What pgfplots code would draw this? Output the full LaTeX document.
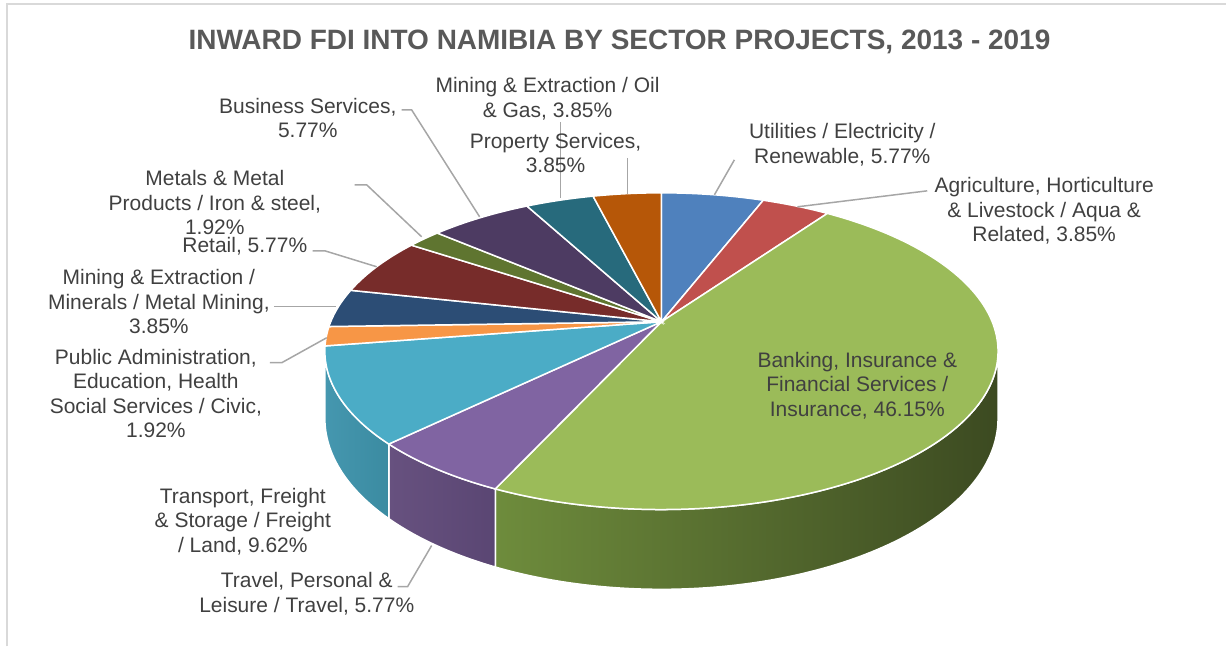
\documentclass[border=0pt]{standalone}
\usepackage{pgfplots}
\pgfplotsset{compat=1.18}
\usepackage{pgfplotstable}
\usepackage{fontspec}
\setmainfont{Liberation Sans}

\definecolor{cA}{HTML}{4F81BD}
\definecolor{cB}{HTML}{C0504D}
\definecolor{cC}{HTML}{9BBB59}
\definecolor{cD}{HTML}{8064A2}
\definecolor{cE}{HTML}{4BACC6}
\definecolor{cF}{HTML}{F79646}
\definecolor{cG}{HTML}{2C4D75}
\definecolor{cH}{HTML}{772C2A}
\definecolor{cI}{HTML}{5F7530}
\definecolor{cJ}{HTML}{4D3B62}
\definecolor{cK}{HTML}{276A7C}
\definecolor{cL}{HTML}{B65708}
\definecolor{gsL}{HTML}{6E8C3C}
\definecolor{gsR}{HTML}{3C4A21}
\definecolor{psL}{HTML}{67517F}
\definecolor{psR}{HTML}{5A4673}
\definecolor{asL}{HTML}{4597AF}
\definecolor{asR}{HTML}{3B8BA1}
\definecolor{txt}{HTML}{404040}
\definecolor{ttl}{HTML}{595959}
\definecolor{ldr}{HTML}{A6A6A6}
\definecolor{frm}{HTML}{D9D9D9}

% sector shares (%), clockwise from 12 o'clock
\pgfplotstableread{
value
5.77
3.85
46.15
5.77
9.62
1.92
3.85
5.77
1.92
5.77
3.85
3.85
}\piedata

\def\getv#1{\pgfplotstablegetelem{#1}{value}\of\piedata}
\pgfmathsetmacro\tot{0}
\getv{0}\pgfmathsetmacro\tot{\tot+\pgfplotsretval}
\getv{1}\pgfmathsetmacro\tot{\tot+\pgfplotsretval}
\getv{2}\pgfmathsetmacro\tot{\tot+\pgfplotsretval}
\getv{3}\pgfmathsetmacro\tot{\tot+\pgfplotsretval}
\getv{4}\pgfmathsetmacro\tot{\tot+\pgfplotsretval}
\getv{5}\pgfmathsetmacro\tot{\tot+\pgfplotsretval}
\getv{6}\pgfmathsetmacro\tot{\tot+\pgfplotsretval}
\getv{7}\pgfmathsetmacro\tot{\tot+\pgfplotsretval}
\getv{8}\pgfmathsetmacro\tot{\tot+\pgfplotsretval}
\getv{9}\pgfmathsetmacro\tot{\tot+\pgfplotsretval}
\getv{10}\pgfmathsetmacro\tot{\tot+\pgfplotsretval}
\getv{11}\pgfmathsetmacro\tot{\tot+\pgfplotsretval}

\pgfmathsetmacro\aA{90}
\getv{0}\pgfmathsetmacro\aB{\aA-\pgfplotsretval/\tot*360}
\getv{1}\pgfmathsetmacro\aC{\aB-\pgfplotsretval/\tot*360}
\getv{2}\pgfmathsetmacro\aD{\aC-\pgfplotsretval/\tot*360}
\getv{3}\pgfmathsetmacro\aE{\aD-\pgfplotsretval/\tot*360}
\getv{4}\pgfmathsetmacro\aF{\aE-\pgfplotsretval/\tot*360}
\getv{5}\pgfmathsetmacro\aG{\aF-\pgfplotsretval/\tot*360}
\getv{6}\pgfmathsetmacro\aH{\aG-\pgfplotsretval/\tot*360}
\getv{7}\pgfmathsetmacro\aI{\aH-\pgfplotsretval/\tot*360}
\getv{8}\pgfmathsetmacro\aJ{\aI-\pgfplotsretval/\tot*360}
\getv{9}\pgfmathsetmacro\aK{\aJ-\pgfplotsretval/\tot*360}
\getv{10}\pgfmathsetmacro\aL{\aK-\pgfplotsretval/\tot*360}
\getv{11}\pgfmathsetmacro\aM{\aL-\pgfplotsretval/\tot*360}
% silhouette angles of the perspective cylinder
\pgfmathsetmacro\sR{asin(-0.186)}
\pgfmathsetmacro\sL{-180-\sR}

\begin{document}
\begin{tikzpicture}[
  declare function={
    px(\p)=662+331*cos(\p)/(1+0.186*sin(\p));
    py(\p)=325+153*sin(\p)/(1+0.186*sin(\p));
    pd(\p)=65/(1+0.186*sin(\p));
    thT(\p,\q,\r)=\q+min(\p,1)*(\r-\q);
    thB(\p,\q,\r)=\r-min(max(\p-1.2,0),1)*(\r-\q);
  },
  lab/.style={font=\fontsize{10.5}{12.25}\selectfont, text=txt, align=center, inner sep=0pt},
  ldr/.style={draw=ldr, line width=0.75pt},
  top/.style={draw=white, line width=0.75pt, samples=60},
  side/.style={draw=white, line width=0.75pt, domain=0:2.2, samples=221}
]
\begin{axis}[x=0.5pt, y=0.5pt, xmin=0, xmax=1227, ymin=0, ymax=647,
  scale only axis, hide axis, clip=false]
\path (axis cs:0,0) rectangle (axis cs:1227,647);
% frame
\draw[frm, line width=1pt] (axis cs:7,0) -- (axis cs:7,642.5) -- (axis cs:1227,642.5);

% side faces (front, visible part)
\addplot[side, left color=gsL, right color=gsR]
 ({ifthenelse(x<1.105, px(thT(x,\sR,\aD)), px(thB(x,\sR,\aD)))},
  {ifthenelse(x<1.105, py(thT(x,\sR,\aD)), py(thB(x,\sR,\aD))-pd(thB(x,\sR,\aD)))}) -- cycle;
\addplot[side, left color=psL, right color=psR]
 ({ifthenelse(x<1.105, px(thT(x,\aD,\aE)), px(thB(x,\aD,\aE)))},
  {ifthenelse(x<1.105, py(thT(x,\aD,\aE)), py(thB(x,\aD,\aE))-pd(thB(x,\aD,\aE)))}) -- cycle;
\addplot[side, left color=asL, right color=asR]
 ({ifthenelse(x<1.105, px(thT(x,\aE,\sL)), px(thB(x,\aE,\sL)))},
  {ifthenelse(x<1.105, py(thT(x,\aE,\sL)), py(thB(x,\aE,\sL))-pd(thB(x,\aE,\sL)))}) -- cycle;

% top faces
\addplot[top, fill=cA, domain=\aB:\aA] ({px(x)},{py(x)}) -- (axis cs:662,325) -- cycle;
\addplot[top, fill=cB, domain=\aC:\aB] ({px(x)},{py(x)}) -- (axis cs:662,325) -- cycle;
\addplot[top, fill=cC, domain=\aD:\aC, samples=150] ({px(x)},{py(x)}) -- (axis cs:662,325) -- cycle;
\addplot[top, fill=cD, domain=\aE:\aD] ({px(x)},{py(x)}) -- (axis cs:662,325) -- cycle;
\addplot[top, fill=cE, domain=\aF:\aE] ({px(x)},{py(x)}) -- (axis cs:662,325) -- cycle;
\addplot[top, fill=cF, domain=\aG:\aF] ({px(x)},{py(x)}) -- (axis cs:662,325) -- cycle;
\addplot[top, fill=cG, domain=\aH:\aG] ({px(x)},{py(x)}) -- (axis cs:662,325) -- cycle;
\addplot[top, fill=cH, domain=\aI:\aH] ({px(x)},{py(x)}) -- (axis cs:662,325) -- cycle;
\addplot[top, fill=cI, domain=\aJ:\aI] ({px(x)},{py(x)}) -- (axis cs:662,325) -- cycle;
\addplot[top, fill=cJ, domain=\aK:\aJ] ({px(x)},{py(x)}) -- (axis cs:662,325) -- cycle;
\addplot[top, fill=cK, domain=\aL:\aK] ({px(x)},{py(x)}) -- (axis cs:662,325) -- cycle;
\addplot[top, fill=cL, domain=\aM:\aL] ({px(x)},{py(x)}) -- (axis cs:662,325) -- cycle;

% leader lines
\draw[ldr] (axis cs:561,525) -- (axis cs:561,449);
\draw[ldr] (axis cs:628,489) -- (axis cs:628,453);
\draw[ldr] (axis cs:735,487) -- (axis cs:715,452);
\draw[ldr] (axis cs:928,456) -- (axis cs:798,440);
\draw[ldr] (axis cs:398,60) -- (axis cs:408,60) -- (axis cs:432,101);
\draw[ldr] (axis cs:270,284) -- (axis cs:282,284) -- (axis cs:327,309);
\draw[ldr] (axis cs:274,340) -- (axis cs:336,340);
\draw[ldr] (axis cs:313,396) -- (axis cs:325,396) -- (axis cs:377,380);
\draw[ldr] (axis cs:355,462) -- (axis cs:367,462) -- (axis cs:422,410);
\draw[ldr] (axis cs:402,537) -- (axis cs:412,537) -- (axis cs:480,430);

% title
\node[font=\fontsize{14}{16}\selectfont\bfseries, text=ttl, inner sep=0pt] at (axis cs:620,605)
  {INWARD FDI INTO NAMIBIA BY SECTOR PROJECTS, 2013 - 2019};

% data labels
\node[lab] at (axis cs:548,548) {Mining \& Extraction / Oil\\\& Gas, 3.85\%};
\node[lab] at (axis cs:556,494) {Property Services,\\3.85\%};
\node[lab] at (axis cs:843,502) {Utilities / Electricity /\\Renewable, 5.77\%};
\node[lab] at (axis cs:1045,436) {Agriculture, Horticulture\\\& Livestock / Aqua \&\\Related, 3.85\%};
\node[lab] at (axis cs:858,261) {Banking, Insurance \&\\Financial Services /\\Insurance, 46.15\%};
\node[lab] at (axis cs:307,53) {Travel, Personal \&\\Leisure / Travel, 5.77\%};
\node[lab] at (axis cs:243,125) {Transport, Freight\\\& Storage / Freight\\/ Land, 9.62\%};
\node[lab] at (axis cs:156,253) {Public Administration,\\Education, Health\\Social Services / Civic,\\1.92\%};
\node[lab] at (axis cs:159,345) {Mining \& Extraction /\\Minerals / Metal Mining,\\3.85\%};
\node[lab] at (axis cs:245,401) {Retail, 5.77\%};
\node[lab] at (axis cs:215,444) {Metals \& Metal\\Products / Iron \& steel,\\1.92\%};
\node[lab] at (axis cs:308,529) {Business Services,\\5.77\%};
\end{axis}
\end{tikzpicture}
\end{document}
